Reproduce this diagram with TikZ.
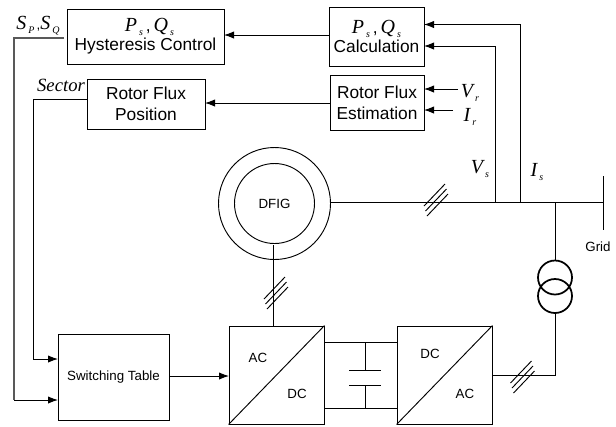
\documentclass[tikz,border=0pt]{standalone}
\usepackage{fontspec}
\setmainfont{Liberation Sans}
\newfontfamily\symfont{Liberation Serif}
\usetikzlibrary{arrows.meta, calc, positioning}
\newcommand{\sym}[2]{{\symfont\itshape\fontsize{15}{15}\selectfont #1\kern1.5pt\smash{\raisebox{-3pt}{\fontsize{7.5}{8}\selectfont #2}}}}
\tikzset{
    ctrlbox/.style={draw, rectangle, align=center, inner sep=0pt, font=\fontsize{13}{16}\selectfont},
    convbox/.style={draw, rectangle, minimum width=71.25pt, minimum height=73.5pt},
    sig/.style={-{Latex[length=7.5pt,width=5.5pt]}},
    lbl/.style={inner sep=0pt}
}
\begin{document}
\begin{tikzpicture}[x=0.75pt, y=-0.75pt, line width=0.7pt, font=\fontsize{10}{12}\selectfont]
    \useasboundingbox (0,0) rectangle (616,426);

    \node[ctrlbox, minimum width=117.75pt, minimum height=41.25pt] (hyst) at (145.5,36.5) {\hspace*{6pt}\sym{P}{s}\,,\,\sym{Q}{s}\\[-2pt]Hysteresis Control};
    \node[ctrlbox, minimum width=71.25pt, minimum height=44.25pt] (calc) at (376.5,36.5) {\sym{P}{s}\,,\,\sym{Q}{s}\\[-2pt]Calculation};
    \node[ctrlbox, minimum width=70.5pt, minimum height=41.25pt] (est) at (377,102.5) {Rotor Flux\\Estimation};
    \node[ctrlbox, minimum width=88.5pt, minimum height=37.5pt] (pos) at (146,104) {Rotor Flux\\Position};
    \node[draw, rectangle, minimum width=83.25pt, minimum height=64.5pt, inner sep=0pt] (tab) at (113.5,377) {Switching Table};
    \node[convbox] (acdc) at (276.5,375) {};
    \node[convbox] (dcac) at (444.5,375) {};
    \draw (acdc.south west) -- (acdc.north east);
    \draw (dcac.south west) -- (dcac.north east);
    \node[lbl] (ac1) at (258,358) {AC};
    \node[lbl] (dc1) at (297,394) {DC};
    \node[lbl] (dc2) at (430,354) {DC};
    \node[lbl] (ac2) at (465,394) {AC};

    \node[draw, circle, minimum size=84pt, inner sep=0pt] (dfig) at (274.5,203.5) {};
    \node[draw, circle, minimum size=60pt, inner sep=0pt] (dfigin) at (274.5,203.5) {DFIG};

    \node[draw, circle, line width=1.3pt, minimum size=25.5pt, inner sep=0pt] (trup) at (555,277.5) {};
    \node[draw, circle, line width=1.3pt, minimum size=25.5pt, inner sep=0pt] (trlo) at (555,296) {};

    \coordinate (gridtop) at (603,176);
    \coordinate (gridbot) at (603,230);
    \coordinate (gridbus) at (603,202.5);
    \coordinate (vstap) at (495.5,202.5);
    \coordinate (istap) at (520.5,202.5);
    \coordinate (trtap) at (555,202.5);
    \draw (gridtop) -- (gridbot);
    \node[lbl] (grid) at (598,247) {Grid};
    \draw (dfig.east |- gridbus) -- (gridbus);
    \draw (trtap) -- (trup.north);

    \coordinate (vsin) at (424,46);
    \coordinate (isin) at (424,24.5);
    \draw[sig] (vstap) |- (vsin);
    \draw[sig] (istap) |- (isin);
    \node[lbl] (vs) at (480,167) {\sym{V}{s}};
    \node[lbl] (is) at (537,170) {\sym{I}{s}};

    \coordinate (vrin) at (424,89);
    \coordinate (irin) at (424,110);
    \coordinate (vrend) at (458,89);
    \coordinate (irend) at (453,110);
    \draw[sig] (vrend) -- (vrin);
    \draw[sig] (irend) -- (irin);
    \node[lbl] (vr) at (470,91) {\sym{V}{r}};
    \node[lbl] (ir) at (470,115) {\sym{I}{r}};

    \coordinate (pqout) at (329,35);
    \coordinate (pqin) at (224,35);
    \draw[sig] (pqout) -- (pqin);
    \coordinate (fluxout) at (330,103);
    \coordinate (fluxin) at (205,103);
    \draw[sig] (fluxout) -- (fluxin);

    \coordinate (spout) at (64,38);
    \coordinate (spcorner) at (14,38);
    \coordinate (spin) at (58,400);
    \draw[draw=black!65, line width=1pt] (spout) -- (spcorner) -- (spcorner |- spin);
    \draw[sig] (spcorner |- spin) -- (spin);
    \node[lbl] (spq) at (38,24) {\sym{S}{P}\,,\sym{S}{Q}};

    \coordinate (secout) at (87,99);
    \coordinate (seccorner) at (33.5,99);
    \coordinate (secin) at (58,359);
    \draw[sig] (secout) -- (seccorner) |- (secin);
    \node[lbl, font=\fontsize{14}{14}\selectfont\symfont\itshape] (sector) at (61,85) {Sector};

    \coordinate (tabout) at (169,376);
    \coordinate (acin) at (229,376);
    \draw[sig] (tabout) -- (acin);

    \coordinate (dfigdrop) at (273.7,245);
    \draw (dfigdrop) -- (dfigdrop |- acdc.north);

    \coordinate (dcup1) at (324,342);
    \coordinate (dcup2) at (397,342);
    \coordinate (dclo1) at (324,408);
    \coordinate (dclo2) at (397,408);
    \draw (dcup1) -- (dcup2);
    \draw (dclo1) -- (dclo2);
    \coordinate (capup) at (365,370);
    \coordinate (caplo) at (365,385);
    \draw (capup |- dcup1) -- (capup);
    \draw (caplo) -- (caplo |- dclo1);
    \draw ($(capup)+(-16,0)$) -- ($(capup)+(16,0)$);
    \draw ($(caplo)+(-16,0)$) -- ($(caplo)+(16,0)$);

    \coordinate (acout) at (492,375);
    \draw (acout) -| (trlo.south);

    \coordinate (busmark) at (436,200);
    \coordinate (rotormark) at (276,293);
    \coordinate (gridmark) at (522.5,377);
    \foreach \mark in {busmark, rotormark, gridmark}
        \foreach \d in {-1,0,1}
            \draw ($(\mark)+(\d*1.5-10.5,\d*5+11)$) -- ($(\mark)+(\d*1.5+10.5,\d*5-11)$);
\end{tikzpicture}
\end{document}
